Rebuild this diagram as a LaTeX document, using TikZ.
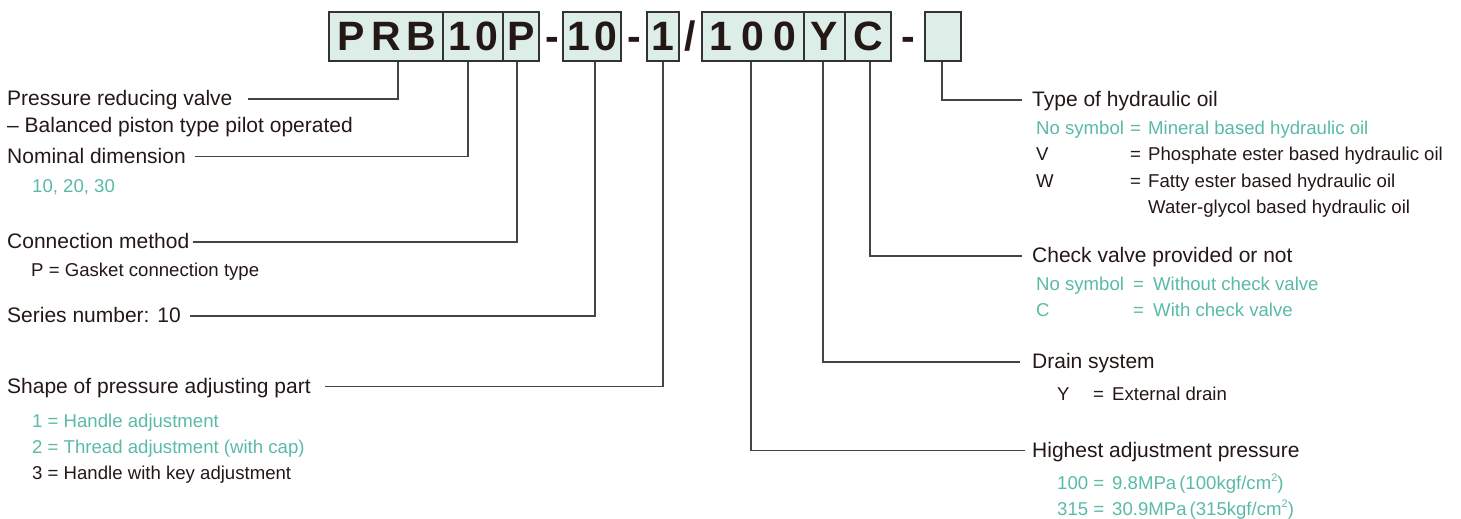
\documentclass[tikz,border=0pt]{standalone}
\usepackage{fontspec}
\setmainfont{Liberation Sans}
\definecolor{ink}{HTML}{231815}
\definecolor{tealtxt}{HTML}{5ABAA8}
\definecolor{boxfill}{HTML}{DDEEE9}
\definecolor{boxline}{HTML}{333333}
\definecolor{leadcol}{HTML}{444444}
\newcommand{\smallsq}{\raisebox{0.42em}{\fontsize{11}{11}\selectfont 2}}
\tikzset{
  codebox/.style={draw=boxline, line width=1.3pt, fill=boxfill, inner sep=0pt,
    minimum height=49pt, text height=29pt, text depth=0pt,
    font=\fontsize{41}{41}\selectfont\bfseries, text=ink},
  codesep/.style={inner sep=0pt, text height=29pt, text depth=0pt,
    font=\fontsize{41}{41}\selectfont\bfseries, text=ink},
  lab/.style={anchor=west, inner sep=0pt, text height=13pt, text depth=0pt,
    font=\fontsize{21}{25}\selectfont, text=ink},
  sub/.style={anchor=west, inner sep=0pt, text height=12pt, text depth=0pt,
    font=\fontsize{18.6}{22}\selectfont, text=ink},
  subt/.style={sub, text=tealtxt},
  lead/.style={draw=leadcol, line width=1.2pt},
}
\begin{document}
\begin{tikzpicture}[x=1pt,y=-1pt]
\useasboundingbox (0,0) rectangle (1461,519);

% code boxes
\node[codebox, minimum width=114pt] (bPRB) at (386,36.5) {\makebox[35pt]{P}\makebox[35pt]{R}\makebox[35pt]{B}};
\node[codebox, minimum width=60pt] (bNom) at (473,36.5) {\makebox[27pt]{1}\makebox[27pt]{0}};
\node[codebox, minimum width=36pt] (bP) at (521,36.5) {P};
\node[codesep] (d1) at (552,36.5) {-};
\node[codebox, minimum width=58pt] (bSer) at (592,36.5) {\makebox[27pt]{1}\makebox[27pt]{0}};
\node[codesep] (d2) at (634.5,36.5) {-};
\node[codebox, minimum width=32pt] (bOne) at (663,36.5) {1};
\node[codesep] (sl) at (690.5,36.5) {/};
\node[codebox, minimum width=102pt] (bHund) at (753,36.5) {\makebox[32pt]{1}\makebox[32pt]{0}\makebox[32pt]{0}};
\node[codebox, minimum width=41pt] (bY) at (824.5,36.5) {Y};
\node[codebox, minimum width=46pt] (bC) at (868,36.5) {C};
\node[codesep] (d3) at (908.5,36.5) {-};
\node[codebox, minimum width=36pt] (bE) at (943,36.5) {};

% left labels
\node[lab] (tPRB) at (7,99) {Pressure reducing valve};
\node[lab] (tBal) at (7,126) {– Balanced piston type pilot operated};
\node[lab] (tNom) at (7,156.5) {Nominal dimension};
\node[subt] (s1020) at (32,186) {10, 20, 30};
\node[lab] (tConn) at (7,242) {Connection method};
\node[sub] (sGas) at (31,270) {P = Gasket connection type};
\node[lab] (tSer) at (7,316) {Series number: 10};
\node[lab] (tShape) at (7,386.5) {Shape of pressure adjusting part};
\node[subt] (s1) at (32,421) {1 = Handle adjustment};
\node[subt] (s2) at (32,447) {2 = Thread adjustment (with cap)};
\node[sub] (s3) at (32,473) {3 = Handle with key adjustment};

% right labels
\node[lab] (tOil) at (1032,100) {Type of hydraulic oil};
\node[subt] (sO1) at (1036,128) {\makebox[94pt][l]{No symbol}\makebox[18pt][l]{=}Mineral based hydraulic oil};
\node[sub] (sO2) at (1036,154) {\makebox[94pt][l]{V}\makebox[18pt][l]{=}Phosphate ester based hydraulic oil};
\node[sub] (sO3) at (1036,181) {\makebox[94pt][l]{W}\makebox[18pt][l]{=}Fatty ester based hydraulic oil};
\node[sub] (sO4) at (1148,207) {Water-glycol based hydraulic oil};
\node[lab] (tChk) at (1032,256) {Check valve provided or not};
\node[subt] (sC1) at (1036,284.5) {\makebox[97pt][l]{No symbol}\makebox[20pt][l]{=}Without check valve};
\node[subt] (sC2) at (1036,310.5) {\makebox[97pt][l]{C}\makebox[20pt][l]{=}With check valve};
\node[lab] (tDrn) at (1032,362) {Drain system};
\node[sub] (sY) at (1057,394.5) {\makebox[36pt][l]{Y}\makebox[19pt][l]{=}External drain};
\node[lab] (tHi) at (1032,450.5) {Highest adjustment pressure};
\node[subt] (sH1) at (1057,483.5) {\makebox[55pt][l]{100 =}9.8MPa\kern3pt(100kgf/cm\smallsq)};
\node[subt] (sH2) at (1057,509.5) {\makebox[55pt][l]{315 =}30.9MPa\kern3pt(315kgf/cm\smallsq)};

% leaders left
\draw[lead] ([xshift=15pt]tPRB.east) -| ([xshift=12pt]bPRB.south);
\draw[lead] ([xshift=9.5pt]tNom.east) -| ([xshift=-5pt]bNom.south);
\draw[lead] ([xshift=3pt]tConn.east) -| ([xshift=-4pt]bP.south);
\draw[lead] ([xshift=9pt]tSer.east) -| ([xshift=3pt]bSer.south);
\draw[lead] ([xshift=14.5pt]tShape.east) -| (bOne.south);

% leaders right
\draw[lead] ([xshift=-1pt]bE.south) |- ([xshift=-10pt]tOil.west);
\draw[lead] ([xshift=2pt]bC.south) |- ([xshift=-10pt]tChk.west);
\draw[lead] ([xshift=-1.5pt]bY.south) |- ([xshift=-12pt]tDrn.west);
\draw[lead] ([xshift=-2pt]bHund.south) |- ([xshift=-7pt]tHi.west);
\end{tikzpicture}
\end{document}
